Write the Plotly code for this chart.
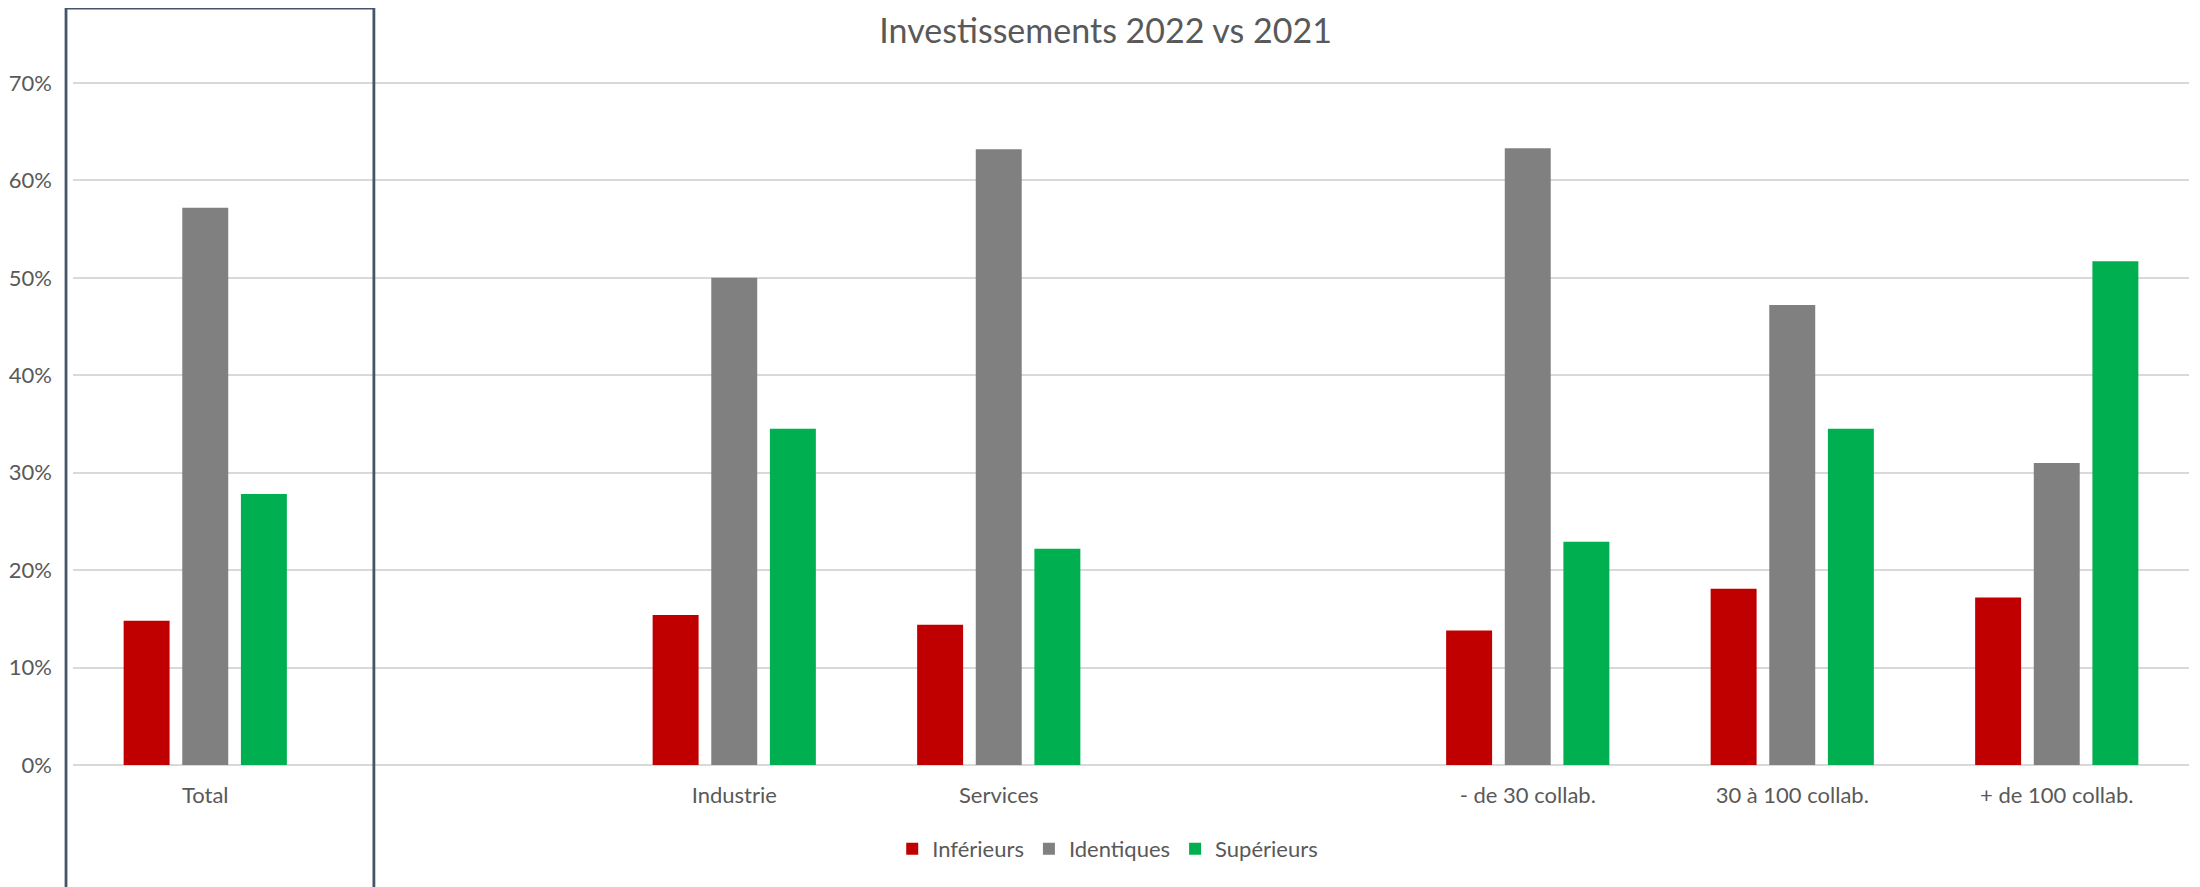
import plotly.graph_objects as go

categories = ["Total", "", "Industrie", "Services", "", "- de 30 collab.", "30 à 100 collab.", "+ de 100 collab."]
inferieurs = [0.148, None, 0.154, 0.144, None, 0.138, 0.181, 0.172]
identiques = [0.572, None, 0.500, 0.632, None, 0.633, 0.472, 0.310]
superieurs = [0.278, None, 0.345, 0.222, None, 0.229, 0.345, 0.517]
series_names = ["Inférieurs", "Identiques", "Supérieurs"]
colors = ["#C00000", "#808080", "#00B050"]
y_ticks = [0, 0.1, 0.2, 0.3, 0.4, 0.5, 0.6, 0.7]

FONT = "Lato"
TXT = "#595959"

xpos = list(range(len(categories)))
fig = go.Figure()
for name, vals, col in zip(series_names, [inferieurs, identiques, superieurs], colors):
    fig.add_trace(go.Bar(x=xpos, y=vals, name=name, marker=dict(color=col, line=dict(width=0))))

# plot area: 0% at y=757, 70% at y=75 (figure coords; page adds 8px offset)
PLOT_TOP, PLOT_BOTTOM, H = 72, 757, 879
plot_h = PLOT_BOTTOM - PLOT_TOP

fig.update_layout(
    width=2192, height=H,
    margin=dict(l=65, r=11, t=PLOT_TOP, b=H - PLOT_BOTTOM, autoexpand=False),
    paper_bgcolor="white", plot_bgcolor="white",
    barmode="group", bargap=0.335, bargroupgap=0.216,
    font=dict(family=FONT, size=22, color=TXT),
    title=dict(text="Investissements 2022 vs 2021", x=0.488, xref="paper", xanchor="center",
               y=0.974, yanchor="middle", font=dict(family=FONT, size=34, color=TXT)),
    legend=dict(orientation="h", x=0.489, xanchor="center", y=-84 / plot_h, yanchor="middle",
                font=dict(family=FONT, size=22, color=TXT), itemwidth=30, traceorder="normal"),
    showlegend=True,
)
fig.update_xaxes(tickmode="array", tickvals=xpos, ticktext=categories, range=[-0.5, len(categories) - 0.5],
                 showgrid=False, zeroline=False, showline=False, ticks="", ticklabelstandoff=15,
                 automargin=False, tickfont=dict(family=FONT, size=22, color=TXT))
fig.update_yaxes(range=[0, 0.703], tickvals=y_ticks, tickformat=".0%", showgrid=True, gridcolor="#D9D9D9",
                 gridwidth=2, zeroline=True, zerolinecolor="#D9D9D9", zerolinewidth=2, showline=False,
                 ticks="", ticklabelstandoff=20, automargin=False,
                 tickfont=dict(family=FONT, size=22, color=TXT))

# highlight box around the "Total" group (top at y=0 page coords, extending below the page)
fig.add_shape(type="rect", xref="paper", yref="paper", x0=-0.0033, x1=0.1422,
              y0=-(H - PLOT_BOTTOM + 40) / plot_h, y1=(PLOT_BOTTOM - 0) / plot_h,
              line=dict(color="#44546A", width=2.8), fillcolor="rgba(0,0,0,0)", layer="above")

fig.write_html("out.html")
